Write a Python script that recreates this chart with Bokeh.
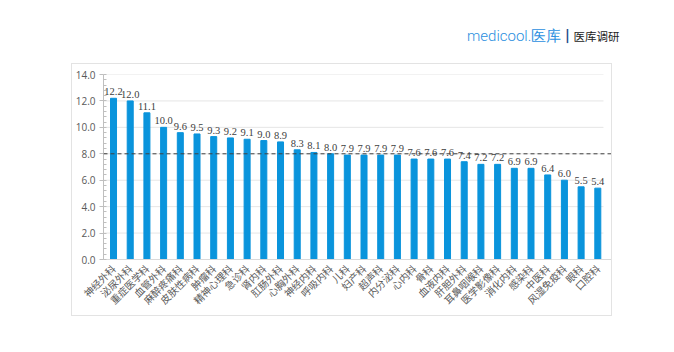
from bokeh.plotting import figure
from bokeh.models import (Range1d, FixedTicker, ColumnDataSource, LabelSet, Span,
                          NumeralTickFormatter, Div, Spacer)
from bokeh.layouts import column, row
from bokeh.embed import file_html
from bokeh.resources import INLINE

categories = ["神经外科", "泌尿外科", "重症医学科", "血管外科", "麻醉疼痛科", "皮肤性病科", "肿瘤科",
              "精神心理科", "急诊科", "肾内科", "肛肠外科", "心胸外科", "神经内科", "呼吸内科", "儿科",
              "妇产科", "超声科", "内分泌科", "心内科", "骨科", "血液内科", "肝胆外科", "耳鼻咽喉科",
              "医学影像科", "消化内科", "感染科", "中医科", "风湿免疫科", "眼科", "口腔科"]
values = [12.2, 12.0, 11.1, 10.0, 9.6, 9.5, 9.3, 9.2, 9.1, 9.0, 8.9, 8.3, 8.1, 8.0, 7.9,
          7.9, 7.9, 7.9, 7.6, 7.6, 7.6, 7.4, 7.2, 7.2, 6.9, 6.9, 6.4, 6.0, 5.5, 5.4]
y_ticks = [0, 2, 4, 6, 8, 10, 12, 14]
average = 8.0

xs = list(range(len(categories)))
src = ColumnDataSource(dict(x=xs, top=values, lab=[f"{v:.1f}" for v in values]))

p = figure(width=539, height=251, output_backend="svg", toolbar_location=None,
           x_range=Range1d(-0.6, 29.82), y_range=Range1d(0, 14),
           min_border_left=31, min_border_right=0, min_border_top=10, min_border_bottom=56,
           styles={"outline": "1px solid #E3E3E3"}, margin=0)
p.outline_line_color = None
p.background_fill_color = "white"
p.border_fill_color = "white"

# grid lines (stop short of the right edge like the reference)
p.segment(x0=[-0.6] * len(y_ticks[1:]), x1=[29.34] * len(y_ticks[1:]), y0=y_ticks[1:], y1=y_ticks[1:],
          line_color="#E6E6E6", line_width=1)

p.vbar(x="x", top="top", width=0.36, source=src, color="#0A94DC")
p.add_layout(LabelSet(x="x", y="top", text="lab", source=src, text_align="center",
                      text_baseline="bottom", y_offset=3, text_font_size="10.5px",
                      text_color="#404040", text_font="Open Sans"))

# axes
p.xaxis.ticker = FixedTicker(ticks=xs)
p.xaxis.major_label_overrides = {i: c for i, c in enumerate(categories)}
p.xaxis.major_label_orientation = 0.785
p.xaxis.major_label_text_font_size = "10px"
p.xaxis.major_label_text_color = "#595959"
p.xaxis.major_label_text_font = "Noto Sans CJK SC"
p.xaxis.major_tick_line_color = None
p.xaxis.minor_tick_line_color = None
p.xaxis.axis_line_color = "#D9D9D9"
p.xaxis.major_label_standoff = 1

p.yaxis.ticker = FixedTicker(ticks=y_ticks, minor_ticks=[i * 0.4 for i in range(36)])
p.yaxis.formatter = NumeralTickFormatter(format="0.0")
p.yaxis.major_label_text_font_size = "10px"
p.yaxis.major_label_text_color = "#595959"
p.yaxis.major_label_text_font = "Open Sans"
p.yaxis.axis_line_color = "#BFBFBF"
p.yaxis.major_tick_line_color = "#BFBFBF"
p.yaxis.major_tick_in = 0
p.yaxis.major_tick_out = 4
p.yaxis.minor_tick_line_color = "#BFBFBF"
p.yaxis.minor_tick_in = 3
p.yaxis.minor_tick_out = 0
p.yaxis.major_label_standoff = 4

p.xgrid.grid_line_color = None
p.ygrid.grid_line_color = None

# average dashed line
p.add_layout(Span(location=average, dimension="width", line_color="#404040",
                  line_width=1, line_dash="4 3"))

logo = Div(width=674, height=64, margin=0, text=(
    '<div style="position:absolute; left:467px; top:25px; white-space:nowrap; line-height:20px;">'
    '<span style="color:#2B8FE0; font-family:Roboto, sans-serif; font-weight:300; font-size:15px;">'
    'medicool.医库</span>'
    '<span style="color:#1F4E8C; font-family:Roboto, sans-serif; font-weight:bold; font-size:17px; margin:0 4px 0 4px;">|</span>'
    '<span style="color:#222; font-family:\'Noto Sans CJK SC\', sans-serif; font-size:11.5px;">医库调研</span>'
    '</div>'), styles={"position": "relative"})

layout = column(logo, row(Spacer(width=72, height=251, margin=0), p, spacing=0, margin=0),
                spacing=0, margin=0)

open("out.html", "w").write(file_html(layout, INLINE))
